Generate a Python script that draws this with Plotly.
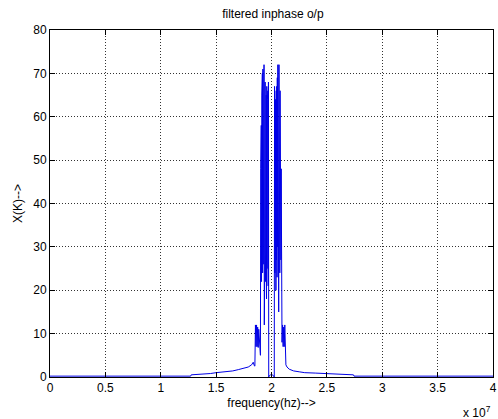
import plotly.graph_objects as go

# frequency in units of 1e7 Hz
freq_1e7 = [
    0.0, 0.4, 0.8, 1.2, 1.27, 1.275, 1.35, 1.45, 1.5, 1.55, 1.6, 1.65, 1.7, 1.75, 1.79, 1.82, 1.835, 1.845, 1.85,
    1.855, 1.86, 1.865, 1.87, 1.875, 1.88, 1.885, 1.89, 1.895,
    1.900, 1.9025, 1.905, 1.9075, 1.910, 1.9125, 1.915, 1.9175, 1.920, 1.9225,
    1.925, 1.9275, 1.930, 1.9325, 1.935, 1.9375, 1.940, 1.9425, 1.945, 1.9475,
    1.950, 1.9525, 1.955, 1.9575, 1.960, 1.9625, 1.965, 1.9675, 1.970, 1.9725, 1.975,
    1.98, 1.99, 2.0, 2.01, 2.02, 2.025,
    2.0275, 2.030, 2.0325, 2.035, 2.0375, 2.040, 2.0425, 2.045, 2.0475, 2.050,
    2.0525, 2.055, 2.0575, 2.060, 2.0625, 2.065, 2.0675, 2.070, 2.0725, 2.075,
    2.0775, 2.080, 2.0825, 2.085, 2.0875, 2.090, 2.0925, 2.095,
    2.10, 2.105, 2.11, 2.115, 2.12, 2.13, 2.14, 2.16, 2.2, 2.25, 2.3, 2.4, 2.5, 2.6, 2.7, 2.74, 2.745,
    3.0, 3.5, 4.0,
]
magnitude = [
    0.2, 0.2, 0.2, 0.2, 0.2, 0.5, 0.6, 0.8, 1.0, 1.1, 1.2, 1.4, 1.7, 2.0, 2.3, 2.8, 3.4, 2.6, 2.5,
    12, 7, 12, 7, 11.5, 6.8, 11, 7.5, 6,
    5, 48, 25, 58, 22, 65, 28, 70, 24, 71,
    30, 69, 26, 72, 12, 71, 27, 68, 22, 66,
    29, 65, 18, 67, 25, 64, 30, 66, 21, 68, 0,
    0.3, 0.5, 0.3, 0.5, 0.3, 0,
    67, 24, 65, 29, 64, 20, 66, 27, 67, 23,
    69, 30, 72, 26, 71, 15, 72, 28, 70, 24,
    66, 30, 58, 27, 48, 34, 40, 8,
    12, 7, 11.5, 7, 12, 2.8, 2.3, 1.8, 1.4, 1.2, 1.0, 0.9, 0.8, 0.7, 0.6, 0.5, 0.2,
    0.2, 0.2, 0.2,
]

x_ticks = [0, 0.5, 1, 1.5, 2, 2.5, 3, 3.5, 4]
x_tick_labels = ["0", "0.5", "1", "1.5", "2", "2.5", "3", "3.5", "4"]
y_ticks = [0, 10, 20, 30, 40, 50, 60, 70, 80]

font = dict(family="Liberation Sans, Arial, sans-serif", size=12, color="#000000")

fig = go.Figure(
    go.Scatter(
        x=freq_1e7, y=magnitude, mode="lines",
        line=dict(color="#0000e6", width=1),
        showlegend=False, hoverinfo="skip",
    )
)

axis_common = dict(
    showline=True, linecolor="#000000", linewidth=1, mirror="ticks",
    ticks="inside", ticklen=5, tickcolor="#000000", tickwidth=1,
    showgrid=True, gridcolor="#333333", gridwidth=1, griddash="1px,2px",
    zeroline=False, tickfont=font, ticklabeloverflow="allow",
)

fig.update_layout(
    width=498, height=419,
    margin=dict(l=50, r=1, t=30, b=42),
    paper_bgcolor="white", plot_bgcolor="white",
    title=dict(text="filtered inphase o/p", x=0.548, xanchor="center",
               y=0.966, yanchor="middle", font=dict(family=font["family"], size=12, color="#000")),
    xaxis=dict(range=[0, 4], tickvals=x_ticks, ticktext=x_tick_labels,
               title=dict(text="frequency(hz)-->", font=font, standoff=4), **axis_common),
    yaxis=dict(range=[0, 80], tickvals=y_ticks,
               title=dict(text="X(K)-->", font=font, standoff=8), **axis_common),
    annotations=[dict(text="x 10<sup>7</sup>", xref="paper", yref="paper",
                      x=1.0, y=-0.1, xanchor="right", yanchor="middle",
                      showarrow=False, font=font)],
)

fig.write_html(
    "out.html",
    config={"displayModeBar": False},
    post_script="document.body.style.margin='0';document.body.style.overflow='hidden';",
)
